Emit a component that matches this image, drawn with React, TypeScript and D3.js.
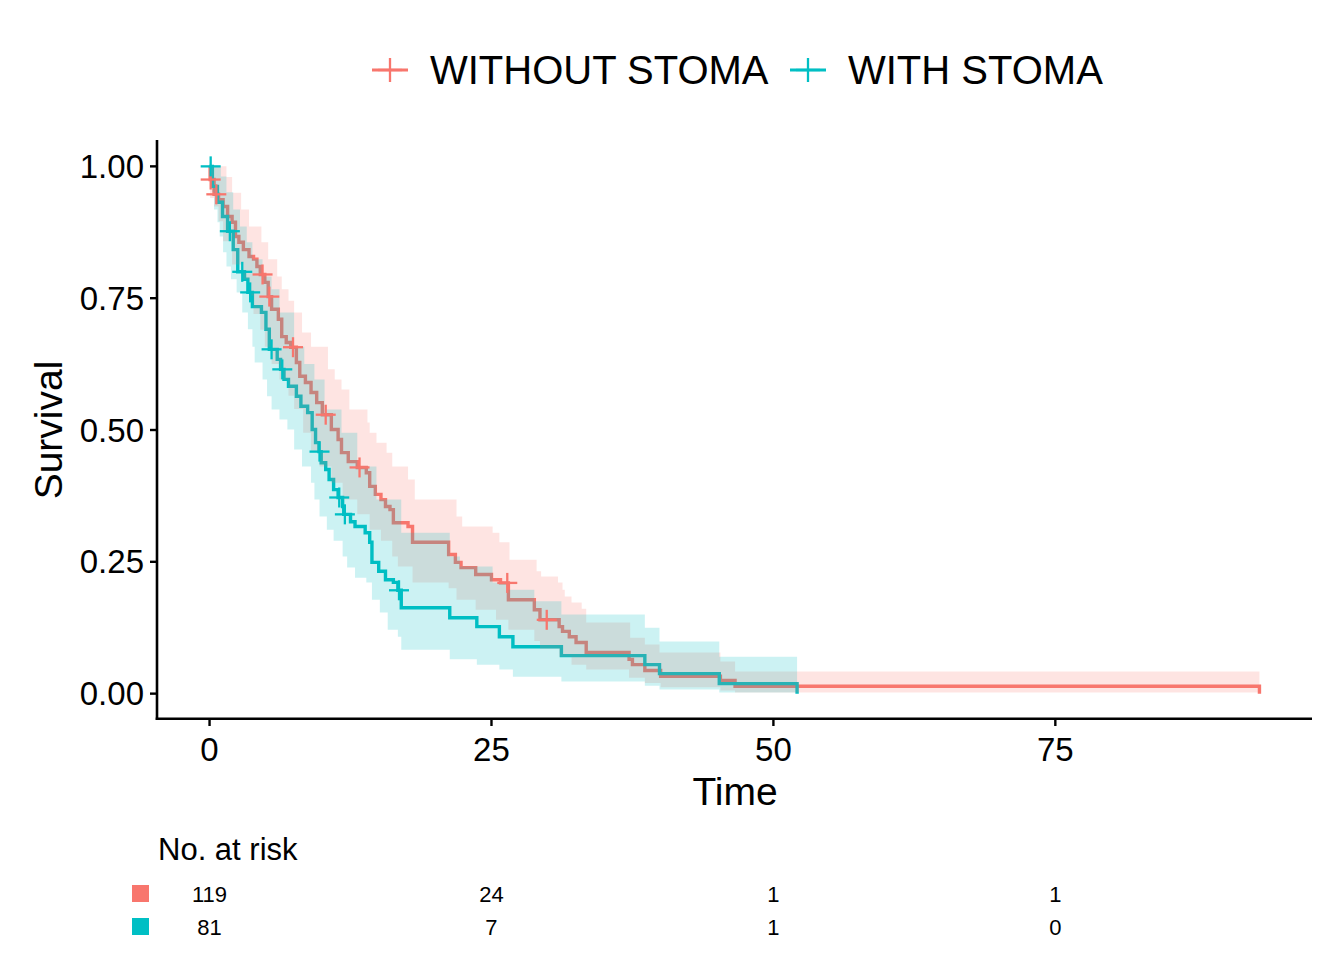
import React, { useEffect } from 'react'
import * as d3 from 'd3'

// groups and colours
const groups = ['WITHOUT STOMA', 'WITH STOMA']
const colors = ['#F8766D', '#00BFC4']

// Kaplan-Meier estimate, WITHOUT STOMA (time, survival starting at that time)
const redTime = [0, 0.05, 0.4, 0.8, 1.2, 1.6, 2.0, 2.3, 2.6, 3.0, 3.5, 3.9, 4.2, 4.5, 4.9, 5.2, 5.5, 6.1, 6.4, 6.8, 7.2, 7.7, 8.0, 8.5, 9.0, 9.5, 10.0, 10.8, 11.4, 11.7, 12.3, 13.1, 13.9, 14.2, 14.7, 15.2, 15.6, 16.0, 16.3, 17.6, 18.0, 21.2, 21.8, 22.3, 23.6, 25.0, 25.8, 26.5, 28.8, 29.3, 31.0, 31.3, 31.9, 32.5, 33.4, 37.2, 37.5, 38.6, 40.0, 45.3, 46.6, 93.1]
const redSurv = [1.0, 0.975, 0.947, 0.937, 0.924, 0.905, 0.894, 0.867, 0.856, 0.842, 0.829, 0.824, 0.81, 0.795, 0.78, 0.753, 0.729, 0.71, 0.677, 0.666, 0.657, 0.628, 0.602, 0.59, 0.571, 0.552, 0.529, 0.501, 0.482, 0.457, 0.44, 0.429, 0.419, 0.393, 0.378, 0.368, 0.355, 0.349, 0.324, 0.317, 0.287, 0.264, 0.249, 0.239, 0.226, 0.216, 0.21, 0.178, 0.159, 0.14, 0.127, 0.118, 0.108, 0.097, 0.078, 0.065, 0.055, 0.044, 0.033, 0.025, 0.014, 0]
const redCensor = [0.1, 0.6, 4.7, 5.3, 7.4, 10.3, 13.3, 26.4, 29.9]
const redUpperTime = [0, 1.5, 2.0, 2.8, 3.5, 4.6, 5.2, 6.0, 6.4, 7.0, 7.5, 8.2, 9.0, 10.5, 11.1, 11.7, 12.4, 14.0, 14.2, 14.8, 15.7, 16.2, 17.6, 18.2, 21.9, 22.4, 25.1, 25.7, 26.6, 29.0, 29.4, 30.9, 31.3, 31.5, 32.1, 33.0, 33.4, 37.3, 38.6, 39.9, 45.3, 46.6]
const redUpper = [1.0, 0.98, 0.95, 0.918, 0.886, 0.856, 0.824, 0.791, 0.767, 0.745, 0.723, 0.685, 0.658, 0.615, 0.596, 0.577, 0.539, 0.514, 0.495, 0.476, 0.457, 0.431, 0.406, 0.368, 0.336, 0.317, 0.305, 0.287, 0.254, 0.232, 0.222, 0.211, 0.197, 0.184, 0.173, 0.161, 0.135, 0.106, 0.093, 0.078, 0.061, 0.042]
const redLowerTime = [0, 0.05, 0.4, 0.8, 1.2, 2.0, 2.8, 3.5, 3.9, 4.5, 4.9, 5.5, 6.2, 7.0, 7.5, 8.3, 9.0, 9.75, 10.8, 11.8, 13.1, 14.2, 15.2, 16.2, 16.7, 18.0, 21.2, 21.9, 23.6, 25.4, 26.5, 28.8, 29.3, 31.0, 32.1, 33.4, 37.2, 38.6, 40.0, 45.3, 46.6]
const redLower = [1.0, 0.94, 0.924, 0.896, 0.858, 0.814, 0.786, 0.755, 0.72, 0.69, 0.658, 0.625, 0.596, 0.565, 0.54, 0.495, 0.46, 0.431, 0.4, 0.368, 0.34, 0.311, 0.29, 0.26, 0.241, 0.211, 0.2, 0.178, 0.159, 0.14, 0.121, 0.1, 0.085, 0.07, 0.055, 0.046, 0.03, 0.02, 0.012, 0.006, 0.002]
const redEnd = 93.1

// Kaplan-Meier estimate, WITH STOMA
const tealTime = [0, 0.25, 0.7, 1.15, 1.6, 2.1, 2.5, 3.1, 3.4, 3.8, 4.6, 5.0, 5.3, 6.0, 6.3, 6.6, 7.0, 7.7, 8.1, 8.7, 9.1, 9.4, 9.7, 9.9, 10.3, 10.6, 11.0, 11.4, 11.8, 11.9, 12.5, 12.9, 13.8, 14.2, 14.4, 15.0, 15.6, 16.3, 16.7, 17.0, 21.3, 23.7, 25.7, 26.9, 31.2, 38.6, 39.9, 45.2, 52.1]
const tealSurv = [1.0, 0.962, 0.932, 0.905, 0.877, 0.842, 0.8, 0.786, 0.761, 0.734, 0.723, 0.691, 0.653, 0.634, 0.615, 0.596, 0.583, 0.564, 0.545, 0.533, 0.501, 0.476, 0.459, 0.438, 0.425, 0.406, 0.387, 0.372, 0.355, 0.34, 0.326, 0.317, 0.305, 0.287, 0.249, 0.232, 0.216, 0.211, 0.196, 0.163, 0.144, 0.127, 0.108, 0.089, 0.072, 0.055, 0.038, 0.019, 0]
const tealCensor = [0.1, 1.8, 2.9, 3.6, 5.5, 6.45, 9.75, 11.5, 12.0, 16.8]
const tealUpperTime = [0, 1.0, 1.5, 2.1, 2.7, 3.3, 3.8, 4.7, 5.5, 6.2, 7.5, 8.4, 9.3, 10.2, 11.7, 13.1, 14.8, 17.0, 21.3, 22.2, 25.1, 26.4, 28.8, 31.2, 38.6, 39.9, 45.2]
const tealUpper = [1.0, 0.981, 0.951, 0.918, 0.886, 0.856, 0.824, 0.791, 0.767, 0.723, 0.658, 0.625, 0.596, 0.539, 0.495, 0.431, 0.368, 0.305, 0.26, 0.241, 0.211, 0.197, 0.175, 0.15, 0.125, 0.099, 0.07]
const tealLowerTime = [0, 0.25, 0.4, 0.7, 0.9, 1.2, 1.5, 1.9, 2.4, 2.9, 3.4, 3.8, 4.0, 4.7, 5.1, 5.5, 6.2, 6.9, 7.5, 8.2, 9.0, 9.3, 9.75, 10.4, 11.0, 11.8, 12.2, 12.9, 13.9, 14.4, 15.1, 15.8, 16.7, 17.0, 21.3, 23.7, 25.7, 26.9, 31.2, 38.6, 39.9, 45.2]
const tealLower = [1.0, 0.951, 0.918, 0.894, 0.867, 0.837, 0.81, 0.786, 0.761, 0.723, 0.691, 0.658, 0.628, 0.596, 0.564, 0.539, 0.52, 0.501, 0.463, 0.431, 0.4, 0.368, 0.336, 0.311, 0.29, 0.26, 0.239, 0.22, 0.211, 0.178, 0.154, 0.121, 0.108, 0.083, 0.065, 0.055, 0.046, 0.032, 0.023, 0.015, 0.008, 0.002]
const tealEnd = 52.1

// number at risk table
const riskTimes = [0, 25, 50, 75]
const redRisk = [119, 24, 1, 1]
const tealRisk = [81, 7, 1, 0]

const xTicks = [0, 25, 50, 75]
const yTicks = [0, 0.25, 0.5, 0.75, 1]

const W = 1344
const H = 960
const FONT = '"Liberation Sans", Arial, sans-serif'

const stepAt = (times: number[], vals: number[], t: number) => {
  const i = d3.bisectRight(times, t) - 1
  return vals[Math.max(0, i)]
}

const App: React.FC = () => {
  useEffect(() => {
    document.body.style.margin = '0'
  }, [])

  const x = d3.scaleLinear().domain([-4.66, 97.76]).range([157, 1312])
  const y = d3.scaleLinear().domain([-0.05, 1.05]).range([720, 140])

  const line = d3
    .line<[number, number]>()
    .x(d => x(d[0]))
    .y(d => y(d[1]))
    .curve(d3.curveStepAfter)

  const area = d3
    .area<{ t: number; hi: number; lo: number }>()
    .x(d => x(d.t))
    .y0(d => y(d.lo))
    .y1(d => y(d.hi))
    .curve(d3.curveStepAfter)

  const series = [
    { time: redTime, surv: redSurv, censor: redCensor, upT: redUpperTime, up: redUpper, loT: redLowerTime, lo: redLower, end: redEnd },
    { time: tealTime, surv: tealSurv, censor: tealCensor, upT: tealUpperTime, up: tealUpper, loT: tealLowerTime, lo: tealLower, end: tealEnd },
  ]

  const bandPoints = (s: typeof series[0]) => {
    const ts = Array.from(new Set([...s.upT, ...s.loT])).sort((a, b) => a - b)
    const pts = ts.map(t => ({ t, hi: stepAt(s.upT, s.up, t), lo: stepAt(s.loT, s.lo, t) }))
    const last = pts[pts.length - 1]
    pts.push({ t: s.end, hi: last.hi, lo: last.lo })
    return pts
  }

  const plus = (cx: number, cy: number, r: number, color: string, key: string, sw = 2.3) => (
    <g key={key} stroke={color} strokeWidth={sw}>
      <line x1={cx - r} x2={cx + r} y1={cy} y2={cy} />
      <line x1={cx} x2={cx} y1={cy - r} y2={cy + r} />
    </g>
  )

  return (
    <svg width={W} height={H} style={{ display: 'block', background: '#fff', fontFamily: FONT }}>
      {/* legend */}
      <g>
        <line x1={372} x2={408} y1={70} y2={70} stroke={colors[0]} strokeWidth={3.2} />
        {plus(390, 70, 12, colors[0], 'lg0')}
        <text x={430} y={84} fontSize={40} fill="#000">{groups[0]}</text>
        <line x1={790} x2={826} y1={70} y2={70} stroke={colors[1]} strokeWidth={3.2} />
        {plus(808, 70, 12, colors[1], 'lg1')}
        <text x={848} y={84} fontSize={40} fill="#000">{groups[1]}</text>
      </g>

      {/* survival step lines */}
      {series.map((s, i) => (
        <path
          key={'l' + i}
          d={line(s.time.map((t, j) => [t, s.surv[j]] as [number, number])) || ''}
          fill="none"
          stroke={colors[i]}
          strokeWidth={3.4}
        />
      ))}

      {/* confidence ribbons */}
      {series.map((s, i) => (
        <path key={'b' + i} d={area(bandPoints(s)) || ''} fill={colors[i]} fillOpacity={0.2} stroke="none" />
      ))}

      {/* censor marks */}
      {series.map((s, i) =>
        s.censor.map((t, j) => plus(x(t), y(stepAt(s.time, s.surv, t)), 10, colors[i], `c${i}-${j}`))
      )}

      {/* axes */}
      <line x1={157} x2={157} y1={140} y2={720} stroke="#000" strokeWidth={2.6} />
      <line x1={155.7} x2={1312} y1={718.7} y2={718.7} stroke="#000" strokeWidth={2.6} />
      {yTicks.map(v => (
        <g key={'yt' + v}>
          <line x1={150} x2={157} y1={y(v)} y2={y(v)} stroke="#000" strokeWidth={2.4} />
          <text x={144} y={y(v) + 11.5} textAnchor="end" fontSize={33} fill="#000">
            {d3.format('.2f')(v)}
          </text>
        </g>
      ))}
      {xTicks.map(v => (
        <g key={'xt' + v}>
          <line x1={x(v)} x2={x(v)} y1={718} y2={726} stroke="#000" strokeWidth={2.4} />
          <text x={x(v)} y={761} textAnchor="middle" fontSize={33} fill="#000">
            {v}
          </text>
        </g>
      ))}
      <text x={735} y={805} textAnchor="middle" fontSize={39} fill="#000">Time</text>
      <text transform="translate(62,430) rotate(-90)" textAnchor="middle" fontSize={39} fill="#000">
        Survival
      </text>

      {/* number at risk */}
      <text x={158} y={860} fontSize={31} fill="#000">No. at risk</text>
      {[redRisk, tealRisk].map((row, i) => (
        <g key={'r' + i}>
          <rect x={132} y={885 + i * 33} width={17} height={17} fill={colors[i]} />
          {row.map((n, j) => (
            <text key={j} x={x(riskTimes[j])} y={902 + i * 33} textAnchor="middle" fontSize={22} fill="#000">
              {n}
            </text>
          ))}
        </g>
      ))}
    </svg>
  )
}

export default App
